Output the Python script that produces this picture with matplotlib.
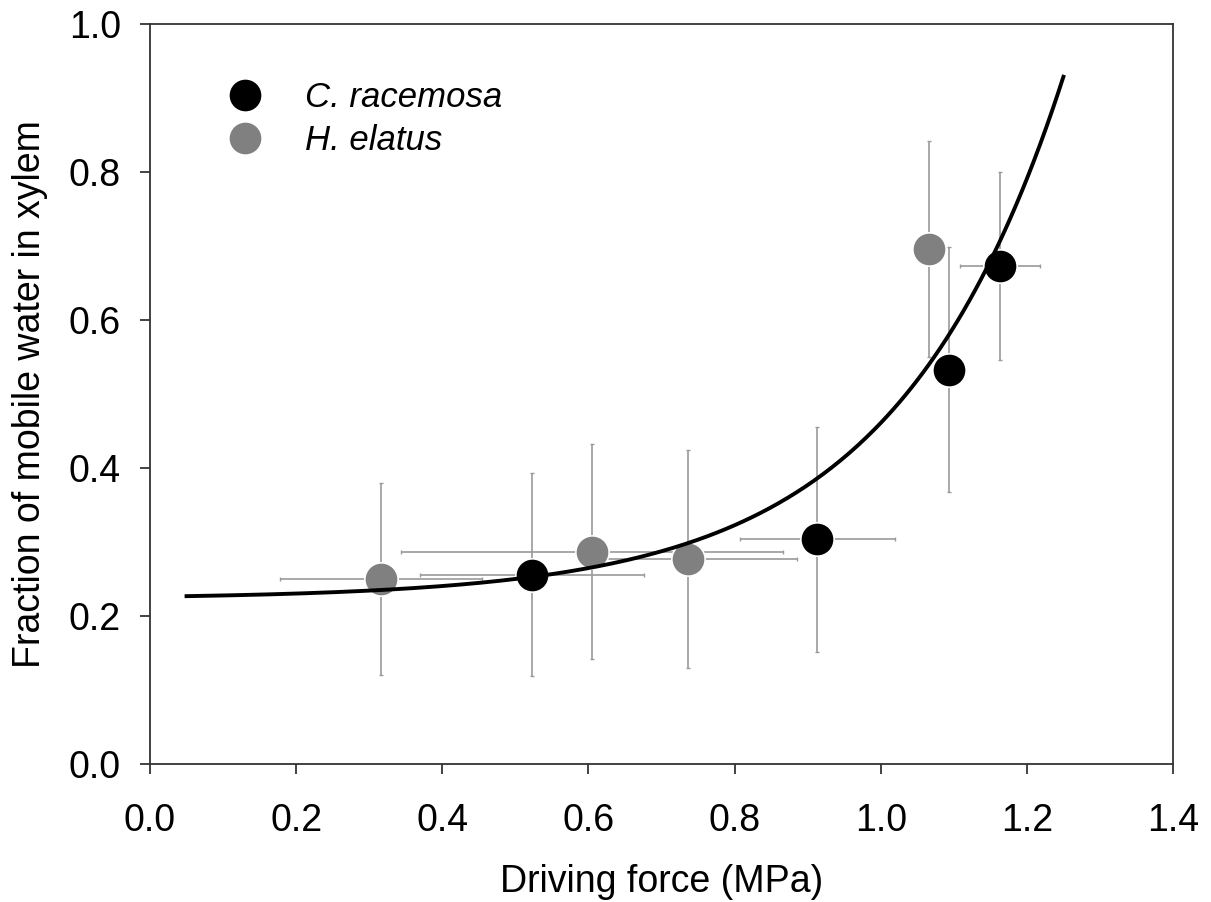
import numpy as np
import matplotlib
matplotlib.use("Agg")
import matplotlib.pyplot as plt
from matplotlib.lines import Line2D

plt.rcParams['font.family'] = ['Liberation Sans', 'DejaVu Sans']

# C. racemosa: driving force (MPa), mobile-water fraction, and their errors
cr_x = [0.523, 0.913, 1.093, 1.163]
cr_y = [0.256, 0.304, 0.533, 0.673]
cr_xerr = [0.153, 0.106, 0.0, 0.055]
cr_yerr = [0.137, 0.152, 0.165, 0.127]

# H. elatus
he_x = [0.316, 0.605, 0.736, 1.066]
he_y = [0.250, 0.287, 0.277, 0.696]
he_xerr = [0.138, 0.261, 0.150, 0.0]
he_yerr = [0.130, 0.145, 0.147, 0.146]

# Exponential fit: y = fit_c + fit_a * exp(fit_b * x)
fit_c = 0.223
fit_a = 0.00307
fit_b = 4.35
fit_range = (0.05, 1.25)

x_ticks = [0.0, 0.2, 0.4, 0.6, 0.8, 1.0, 1.2, 1.4]
y_ticks = [0.0, 0.2, 0.4, 0.6, 0.8, 1.0]

fig = plt.figure(figsize=(12.11, 9.02), dpi=100)
ax = fig.add_axes([150 / 1211, 1 - 764 / 902, (1173 - 150) / 1211, (764 - 24) / 902])

err_kw = dict(fmt='none', ecolor='#9a9a9a', elinewidth=1.2, capsize=1.2, capthick=1.0, zorder=1)
ax.errorbar(cr_x, cr_y, xerr=cr_xerr, yerr=cr_yerr, **err_kw)
ax.errorbar(he_x, he_y, xerr=he_xerr, yerr=he_yerr, **err_kw)

msize = 24
mk = dict(linestyle='none', marker='o', markersize=msize, markeredgecolor='white',
          markeredgewidth=1.2, zorder=3)
ax.plot(cr_x, cr_y, color='black', **mk)
ax.plot(he_x, he_y, color='#808080', **mk)

xf = np.linspace(fit_range[0], fit_range[1], 300)
ax.plot(xf, fit_c + fit_a * np.exp(fit_b * xf), color='black', lw=2.8, zorder=4)

ax.set_xlim(0, 1.4)
ax.set_ylim(0, 1.0)
ax.set_xticks(x_ticks)
ax.set_yticks(y_ticks)
ax.set_xticklabels([f"{t:.1f}" for t in x_ticks])
ax.set_yticklabels([f"{t:.1f}" for t in y_ticks])
ax.tick_params(direction='out', length=7, width=1.2, labelsize=27, color='#222222')
ax.tick_params(axis='x', pad=21)
ax.tick_params(axis='y', pad=14)
for s in ax.spines.values():
    s.set_linewidth(1.3)
    s.set_color('#333333')

ax.set_xlabel('Driving force (MPa)', fontsize=27, labelpad=18)
ax.set_ylabel('Fraction of mobile water in xylem', fontsize=27, labelpad=15)

handles = [
    Line2D([], [], linestyle='none', marker='o', markersize=msize, color='black',
           markeredgecolor='white', markeredgewidth=1.2),
    Line2D([], [], linestyle='none', marker='o', markersize=msize, color='#808080',
           markeredgecolor='white', markeredgewidth=1.2),
]
leg = ax.legend(handles, ['C. racemosa', 'H. elatus'], loc='upper left',
                bbox_to_anchor=(0.045, 0.942), frameon=False, fontsize=25,
                handletextpad=0.75, labelspacing=0.3, borderaxespad=0)
for t in leg.get_texts():
    t.set_fontstyle('italic')

fig.savefig('out.png', dpi=100)
